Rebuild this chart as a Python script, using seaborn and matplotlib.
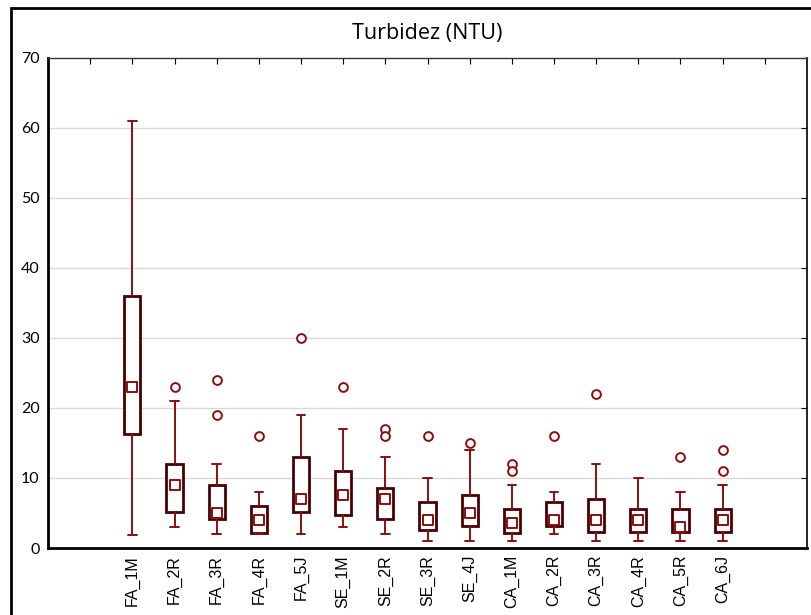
import matplotlib
matplotlib.use("Agg")
import matplotlib.pyplot as plt
import seaborn as sns
import pandas as pd
from matplotlib.patches import Rectangle

# === Data ===
sites = ["FA_1M", "FA_2R", "FA_3R", "FA_4R", "FA_5J",
         "SE_1M", "SE_2R", "SE_3R", "SE_4J",
         "CA_1M", "CA_2R", "CA_3R", "CA_4R", "CA_5R", "CA_6J"]
medians = [23, 9, 5, 4, 7, 7.5, 7, 4, 5, 3.5, 4, 4, 4, 3, 4]
q1 = [16.2, 5.2, 4.2, 2.2, 5.2, 4.7, 4.2, 2.6, 3.2, 2.2, 3.2, 2.3, 2.3, 2.3, 2.3]
q3 = [36, 12, 9, 6, 13, 11, 8.5, 6.5, 7.5, 5.5, 6.5, 7, 5.5, 5.5, 5.5]
whisk_lo = [1.8, 3, 2, 2, 2, 3, 2, 1, 1, 1, 2, 1, 1, 1, 1]
whisk_hi = [61, 21, 12, 8, 19, 17, 13, 10, 14, 9, 8, 12, 10, 8, 9]
outliers = [[], [23], [24, 19], [16], [30], [23], [17, 16], [16], [15],
            [12, 11], [16], [22], [], [13], [14, 11]]

positions = list(range(1, len(sites) + 1))

box_col = "#4a0000"
line_col = "#8b0f0f"

sns.set_style("white")
plt.rcParams["font.family"] = ["Liberation Sans", "DejaVu Sans"]

fig = plt.figure(figsize=(8.11, 6.15), dpi=100)
ax = fig.add_axes([48 / 811, 1 - 548 / 615, (807 - 48) / 811, (548 - 57.5) / 615])

# grid
ax.set_ylim(0, 70)
ax.set_xlim(-1, 17)
for v in range(10, 70, 10):
    ax.axhline(v, color="#d9d9d9", lw=1, zorder=0)

# boxes and whiskers
stats = []
for i in range(len(sites)):
    stats.append({"med": medians[i], "q1": q1[i], "q3": q3[i],
                  "whislo": whisk_lo[i], "whishi": whisk_hi[i], "fliers": []})
ax.bxp(stats, positions=positions, widths=0.38, showfliers=False,
       capwidths=0.2, patch_artist=True,
       boxprops=dict(facecolor="white", edgecolor=box_col, linewidth=2.0),
       whiskerprops=dict(color=line_col, linewidth=1.4),
       capprops=dict(color=line_col, linewidth=1.4),
       medianprops=dict(linewidth=0))

# medians and outliers with seaborn
med_df = pd.DataFrame({"pos": positions, "value": medians})
sns.scatterplot(data=med_df, x="pos", y="value", marker="s", s=42,
                facecolor="white", edgecolor=line_col, linewidth=1.4,
                ax=ax, zorder=5)

out_pos, out_val = [], []
for p, vals in zip(positions, outliers):
    for v in vals:
        out_pos.append(p)
        out_val.append(v)
out_df = pd.DataFrame({"pos": out_pos, "value": out_val})
sns.scatterplot(data=out_df, x="pos", y="value", marker="o", s=40,
                facecolor="white", edgecolor=line_col, linewidth=1.4,
                ax=ax, zorder=5)

# axes styling
ax.set_xlabel("")
ax.set_ylabel("")
ax.set_xticks(range(0, 17))
ax.set_xticklabels([""] + sites + [""], rotation=90, fontsize=11.5, color="black")
ax.set_yticks(range(0, 71, 10))
ax.set_yticklabels([str(v) for v in range(0, 71, 10)],
                   fontsize=11.5, family=["Lato", "DejaVu Sans"], color="black")
ax.tick_params(axis="x", direction="in", length=4, top=True, pad=5, color="black")
ax.tick_params(axis="y", direction="in", length=4, right=True, pad=6, color="black")
ax.spines["left"].set_linewidth(2)
ax.spines["bottom"].set_linewidth(2)
ax.spines["top"].set_linewidth(1)
ax.spines["right"].set_linewidth(1.2)
for s in ax.spines.values():
    s.set_color("black")
ax.spines["top"].set_color("#333333")

# title, centred over the plot area
fig.text((48 + 807) / 2 / 811, 1 - 34 / 615, "Turbidez (NTU)", fontsize=15.5,
         family=["Open Sans", "DejaVu Sans"], color="black",
         ha="center", va="center")

# outer frame of the figure
fig.patches.append(Rectangle((11 / 811, -0.1), 1.2, 1 - 8 / 615 + 0.1,
                             transform=fig.transFigure, fill=False,
                             edgecolor="black", linewidth=2))

plt.savefig("out.png", dpi=100)
